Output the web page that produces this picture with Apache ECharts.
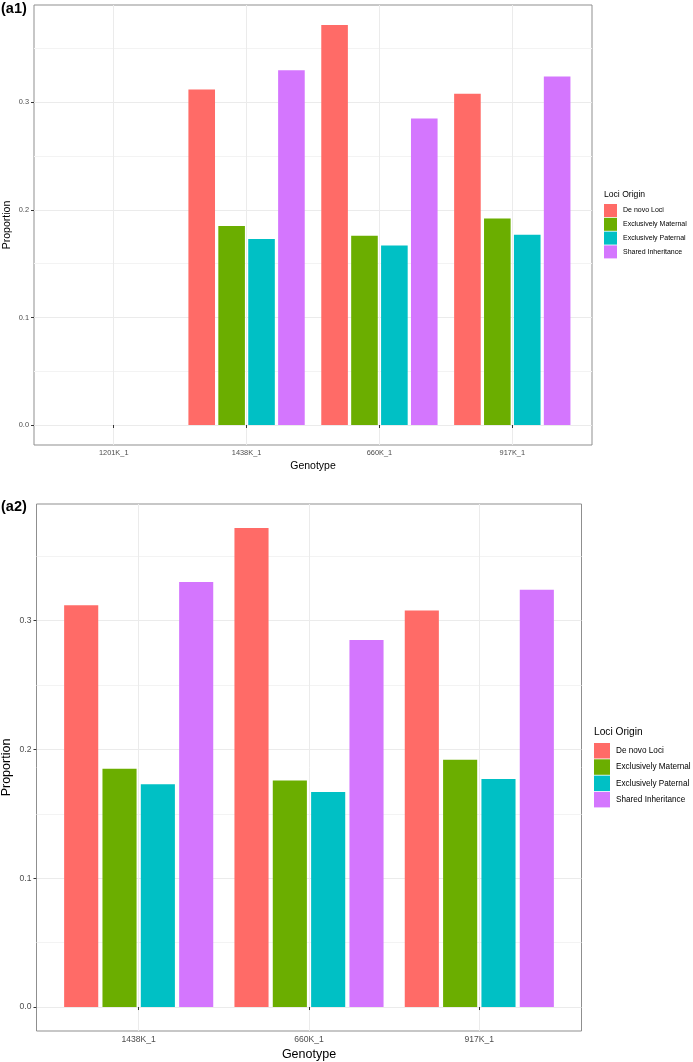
<!DOCTYPE html>
<html><head><meta charset="utf-8">
<script src="https://cdn.jsdelivr.net/npm/echarts@6/dist/echarts.min.js"></script>
<style>html,body{margin:0;padding:0;background:#fff}#c{width:693px;height:1062px}</style>
</head><body><div id="c"></div>
<script>
// ---- data ----
const seriesNames = ['De novo Loci', 'Exclusively Maternal', 'Exclusively Paternal', 'Shared Inheritance'];
const genotypesA1 = ['1201K_1', '1438K_1', '660K_1', '917K_1'];
const genotypesA2 = ['1438K_1', '660K_1', '917K_1'];
const deNovo = [0.312, 0.372, 0.308];
const maternal = [0.185, 0.176, 0.192];
const paternal = [0.173, 0.167, 0.177];
const shared = [0.330, 0.285, 0.324];
const yTicks = [0, 0.1, 0.2, 0.3];
const yMinorTicks = [0.05, 0.15, 0.25, 0.35];
const colors = ['#FF6B67', '#6BAE00', '#00C0C5', '#D476FE'];

// ---- layout ----
const FONT = 'Liberation Sans, Arial, Helvetica, sans-serif';
const allValues = [deNovo, maternal, paternal, shared];
const vmax = Math.max(...allValues.flat());
const yMin = -0.05 * vmax, yMax = 1.05 * vmax;

const panels = [
  { cats: genotypesA1, left: 34, top: 5, width: 558, height: 440, fs: 7.4, nameFs: 10.5,
    xMargin: 4, xNameGap: 16, yNameGap: 21 },
  { cats: genotypesA2, left: 36.5, top: 504, width: 545, height: 527, fs: 8.6, nameFs: 12.5,
    xMargin: 4.5, xNameGap: 17, yNameGap: 23 }
];

const grid = [], xAxis = [], yAxis = [], series = [];
panels.forEach((p, i) => {
  const n = p.cats.length;
  const unit = p.width / (n + 0.2);
  const pitch = unit * 0.9 / 4;
  const gapPx = pitch * 0.11;
  const barW = pitch - gapPx;
  const pos = p.cats.map((c, k) => k + 1);
  grid.push({ left: p.left, top: p.top, width: p.width, height: p.height, show: true,
    borderColor: '#8f8f8f', borderWidth: 1, backgroundColor: '#fff', containLabel: false,
    outerBoundsMode: 'none' });
  xAxis.push({
    gridIndex: i, type: 'value', min: 0.4, max: n + 0.6,
    axisLine: { show: false },
    axisTick: { show: true, length: 3, customValues: pos, lineStyle: { color: '#333', width: 1 } },
    axisLabel: { customValues: pos, margin: p.xMargin, fontSize: p.fs, color: '#4d4d4d', fontFamily: FONT,
      formatter: v => p.cats[Math.round(v) - 1] },
    splitLine: { show: true, lineStyle: { color: '#ebebeb', width: 1 } },
    name: 'Genotype', nameLocation: 'middle', nameGap: p.xNameGap, nameMoveOverlap: false,
    nameTextStyle: { fontSize: p.nameFs, color: '#000', fontFamily: FONT }
  });
  yAxis.push({
    gridIndex: i, type: 'value', min: yMin, max: yMax,
    axisLine: { show: false },
    axisTick: { show: true, length: 3, customValues: yTicks, lineStyle: { color: '#333', width: 1 } },
    axisLabel: { customValues: yTicks, margin: 5, fontSize: p.fs, color: '#4d4d4d', fontFamily: FONT,
      formatter: v => v.toFixed(1) },
    splitLine: { show: true, lineStyle: { color: '#ebebeb', width: 1 } },
    name: 'Proportion', nameLocation: 'middle', nameGap: p.yNameGap, nameRotate: 90, nameMoveOverlap: false,
    nameTextStyle: { fontSize: p.nameFs, color: '#000', fontFamily: FONT }
  });
  yAxis.push({
    gridIndex: i, type: 'value', min: yMin, max: yMax, position: 'left',
    axisLine: { show: false },
    axisTick: { show: false, customValues: yMinorTicks },
    axisLabel: { show: false },
    splitLine: { show: true, lineStyle: { color: '#f3f3f3', width: 1 } }
  });
  allValues.forEach((vals, s) => {
    const data = genotypesA2.map((g, k) => [p.cats.indexOf(g) + 1, vals[k]]);
    series.push({
      type: 'bar', name: seriesNames[s], xAxisIndex: i, yAxisIndex: i * 2,
      data: data, barWidth: barW, barGap: (gapPx / barW * 100).toFixed(1) + '%',
      itemStyle: { color: colors[s] }, z: 3
    });
  });
});

const chart = echarts.init(document.getElementById('c'), null, { renderer: 'canvas' });
chart.setOption({
  animation: false,
  backgroundColor: '#fff',
  color: colors,
  title: [
    { text: '(a1)', left: 1, top: 1, padding: 0, textStyle: { fontSize: 14.5, fontWeight: 'bold', color: '#000', fontFamily: FONT } },
    { text: '(a2)', left: 1, top: 499, padding: 0, textStyle: { fontSize: 14.5, fontWeight: 'bold', color: '#000', fontFamily: FONT } },
    { text: 'Loci Origin', left: 604, top: 190, padding: 0, textStyle: { fontSize: 8.6, fontWeight: 'normal', color: '#000', fontFamily: FONT } },
    { text: 'Loci Origin', left: 594, top: 727, padding: 0, textStyle: { fontSize: 10.2, fontWeight: 'normal', color: '#000', fontFamily: FONT } }
  ],
  legend: [
    { data: seriesNames, orient: 'vertical', left: 604, top: 204, padding: 0, icon: 'rect',
      itemWidth: 13, itemHeight: 13, itemGap: 0.8, selectedMode: false,
      textStyle: { fontSize: 7, color: '#000', fontFamily: FONT, padding: [0, 0, 0, 1] } },
    { data: seriesNames, orient: 'vertical', left: 594, top: 743, padding: 0, icon: 'rect',
      itemWidth: 16, itemHeight: 15.5, itemGap: 0.8, selectedMode: false,
      textStyle: { fontSize: 8.2, color: '#000', fontFamily: FONT, padding: [0, 0, 0, 1] } }
  ],
  grid, xAxis, yAxis, series
});
</script></body></html>
